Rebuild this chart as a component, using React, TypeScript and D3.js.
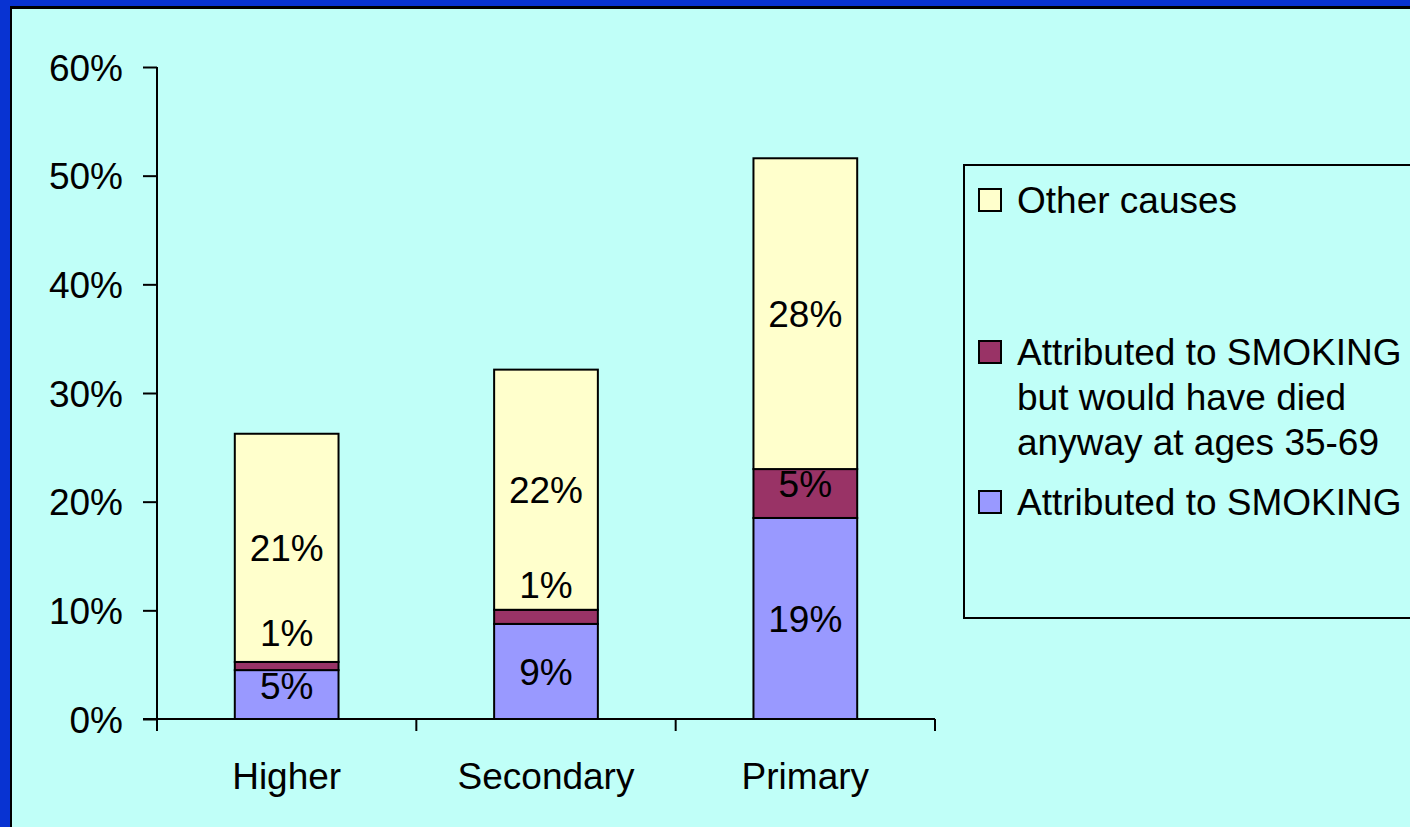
import React, { useEffect, useRef } from 'react';
import * as d3 from 'd3';

const categories = ['Higher', 'Secondary', 'Primary'];
const seriesNames = [
	'Attributed to SMOKING',
	'Attributed to SMOKING\nbut would have died\nanyway at ages 35-69',
	'Other causes',
];
const smoking = [4.5, 8.75, 18.5];
const smokingAnyway = [0.75, 1.3, 4.5];
const otherCauses = [21, 22.1, 28.6];
const smokingLabels = ['5%', '9%', '19%'];
const anywayLabels = ['1%', '1%', '5%'];
const otherLabels = ['21%', '22%', '28%'];
const yTicks = [0, 10, 20, 30, 40, 50, 60];

const colors = ['#9999FF', '#993366', '#FFFFCC'];
// pixel nudges Excel applied to crowded labels
const labelNudge = [
	[-9, 0, 0],
	[-33, -32, -10],
	[0, 0, 0],
];

const width = 1410;
const height = 827;
const margin = { top: 67, left: 157, right: 935, bottom: 719 };
const font = '"Liberation Sans", Arial, sans-serif';
const fontSize = 37;

const App = () => {
	const ref = useRef<SVGSVGElement>(null);

	useEffect(() => {
		document.body.style.margin = '0';
		const svg = d3.select(ref.current);
		svg.selectAll('*').remove();

		// frame
		svg.append('rect').attr('width', width).attr('height', height).attr('fill', '#0833D2');
		svg.append('rect').attr('x', 10).attr('y', 6).attr('width', width).attr('height', height).attr('fill', '#000');
		svg.append('rect').attr('x', 12).attr('y', 9).attr('width', width).attr('height', height).attr('fill', '#C0FFF8');

		const x = d3.scaleBand()
			.domain(categories)
			.range([margin.left, margin.right])
			.paddingInner(0.6)
			.paddingOuter(0.3);

		const y = d3.scaleLinear()
			.domain([0, 60])
			.range([margin.bottom, margin.top]);

		const rows = categories.map((c, i) => ({
			cat: c,
			s0: smoking[i],
			s1: smokingAnyway[i],
			s2: otherCauses[i],
		}));
		const stack = d3.stack<any>().keys(['s0', 's1', 's2'])(rows);
		const labels = [smokingLabels, anywayLabels, otherLabels];

		const g = svg.append('g');
		stack.forEach((layer, li) => {
			g.append('g')
				.selectAll('rect')
				.data(layer)
				.join('rect')
				.attr('x', d => x(d.data.cat)!)
				.attr('y', d => y(d[1]))
				.attr('width', x.bandwidth())
				.attr('height', d => y(d[0]) - y(d[1]))
				.attr('fill', colors[li])
				.attr('stroke', '#000')
				.attr('stroke-width', 2);
		});
		stack.forEach((layer, li) => {
			g.append('g')
				.selectAll('text')
				.data(layer)
				.join('text')
				.attr('x', d => x(d.data.cat)! + x.bandwidth() / 2)
				.attr('y', (d, i) => (y(d[0]) + y(d[1])) / 2 + fontSize * 0.358 + labelNudge[li][i])
				.attr('text-anchor', 'middle')
				.attr('font-family', font)
				.attr('font-size', fontSize)
				.attr('fill', '#000')
				.text((d, i) => labels[li][i]);
		});

		// y axis
		const yAxis = svg.append('g')
			.attr('transform', `translate(${margin.left},0)`)
			.call(d3.axisLeft(y).tickValues(yTicks).tickSize(14).tickPadding(20).tickFormat(d => `${d}%`));
		yAxis.select('.domain').attr('stroke-width', 2).attr('d', `M0,${margin.top}V${margin.bottom}`);
		yAxis.selectAll('.tick line').attr('stroke-width', 2);
		yAxis.selectAll('.tick text')
			.attr('font-family', font)
			.attr('font-size', fontSize)
			.attr('fill', '#000')
			.attr('dy', '0.36em');

		// x axis with ticks at category boundaries
		const xAxis = svg.append('g');
		xAxis.append('line')
			.attr('x1', margin.left - 14)
			.attr('x2', margin.right)
			.attr('y1', margin.bottom)
			.attr('y2', margin.bottom)
			.attr('stroke', '#000')
			.attr('stroke-width', 2);
		const bounds = d3.range(categories.length + 1).map(i => margin.left + i * x.step());
		xAxis.selectAll('.bt')
			.data(bounds)
			.join('line')
			.attr('x1', d => d)
			.attr('x2', d => d)
			.attr('y1', margin.bottom)
			.attr('y2', margin.bottom + 12)
			.attr('stroke', '#000')
			.attr('stroke-width', 2);
		xAxis.selectAll('text')
			.data(categories)
			.join('text')
			.attr('x', d => x(d)! + x.bandwidth() / 2)
			.attr('y', 789)
			.attr('text-anchor', 'middle')
			.attr('font-family', font)
			.attr('font-size', fontSize)
			.attr('fill', '#000')
			.text(d => d);

		// legend
		const legend = svg.append('g');
		legend.append('rect')
			.attr('x', 964)
			.attr('y', 165)
			.attr('width', 500)
			.attr('height', 453)
			.attr('fill', 'none')
			.attr('stroke', '#000')
			.attr('stroke-width', 2);
		const legendOrder = [2, 1, 0];
		const legendY = [200, 352, 502];
		legendOrder.forEach((si, k) => {
			const cy = legendY[k];
			legend.append('rect')
				.attr('x', 979)
				.attr('y', cy - 11)
				.attr('width', 22)
				.attr('height', 22)
				.attr('fill', colors[si])
				.attr('stroke', '#000')
				.attr('stroke-width', 2);
			const t = legend.append('text')
				.attr('font-family', font)
				.attr('font-size', fontSize)
				.attr('fill', '#000');
			seriesNames[si].split('\n').forEach((line, li) => {
				t.append('tspan')
					.attr('x', 1017)
					.attr('y', cy + fontSize * 0.358 + li * 45)
					.text(line);
			});
		});
	}, []);

	return <svg ref={ref} width={width} height={height} style={{ display: 'block' }} />;
};

export default App;
